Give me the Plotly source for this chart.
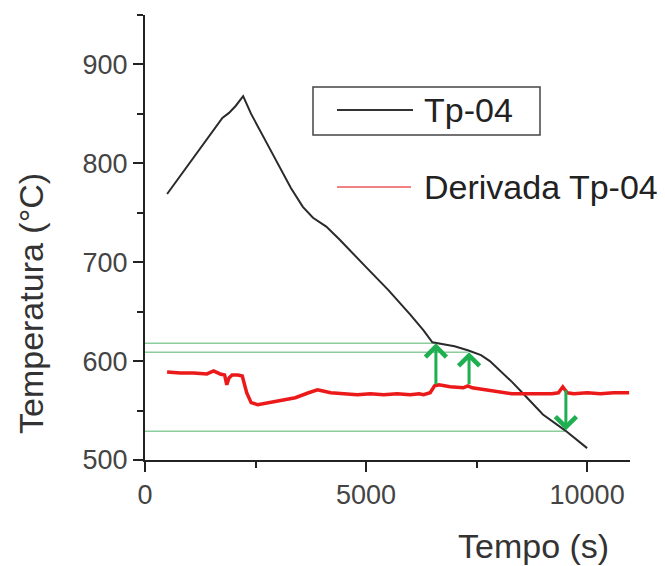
import plotly.graph_objects as go

# Tp-04 temperature curve (time s, temperature °C)
tp_time = [500, 1000, 1500, 1750, 1900, 2050, 2220, 2400, 2700, 3000, 3300, 3570,
           3800, 4100, 4400, 5000, 5500, 6000, 6300, 6500, 6750, 7000, 7300, 7600,
           7800, 8000, 8300, 8600, 9000, 9500, 10000]
tp_temp = [769, 800, 830, 846, 851, 858, 868, 850, 825, 800, 775, 756,
           745, 736, 723, 695, 672, 647, 631, 619, 617, 615, 611, 606,
           600, 592, 579, 565, 546, 530, 512]

# Derivada Tp-04 (plotted on the same scale)
der_time = [500, 800, 1100, 1400, 1550, 1700, 1800, 1850, 1900, 1970, 2100, 2200,
            2300, 2400, 2550, 2800, 3100, 3400, 3700, 3900, 4000, 4200, 4500, 4800,
            5100, 5400, 5700, 6000, 6200, 6300, 6450, 6550, 6650, 6900, 7200, 7300,
            7400, 7700, 8000, 8300, 8600, 8900, 9200, 9350, 9450, 9550, 9700, 10000,
            10300, 10600, 10950]
der_temp = [589, 588, 588, 587, 590, 587, 586, 576, 583, 586, 586, 585,
            568, 558, 556, 558, 560, 563, 568, 571, 570, 568, 567, 566,
            567, 566, 567, 566, 567, 566, 568, 575, 576, 574, 573, 575,
            573, 571, 569, 567, 567, 567, 567, 568, 574, 568, 567, 568,
            567, 568, 568]

# Reference levels (horizontal green lines): level, end time
level_vals = [618, 609, 529]
level_ends = [6550, 7300, 9500]

# Arrows: time, start (derivative), end (level)
arrow_time = [6580, 7330, 9520]
arrow_from = [575, 575, 572]
arrow_to = [618, 609, 530]

x_ticks = [0, 5000, 10000]
x_tick_text = ["0", "5000", "10000"]
y_ticks = [500, 600, 700, 800, 900]
y_tick_text = ["500", "600", "700", "800", "900"]

legend_names = ["Tp-04", "Derivada Tp-04"]

FONT = "Liberation Sans, Arial, sans-serif"

# page body has an 8px margin: compensate so the plot lands where the reference has it
OFF = 8
PL, PR, PT, PB = 145, 630, 15, 460          # plot area in window pixels
W, H = 665 - OFF, 566 - OFF


def px(xw):
    return (xw - PL) / (PR - PL)


def py(yw):
    return (PB - yw) / (PB - PT)


fig = go.Figure()

for lv, le in zip(level_vals, level_ends):
    fig.add_trace(go.Scatter(x=[0, le], y=[lv, lv], mode="lines",
                             line=dict(color="rgb(140,205,155)", width=1.5),
                             showlegend=False, hoverinfo="skip"))

fig.add_trace(go.Scatter(x=tp_time, y=tp_temp, mode="lines", name=legend_names[0],
                         line=dict(color="#2a2a2a", width=2), showlegend=False))
fig.add_trace(go.Scatter(x=der_time, y=der_temp, mode="lines", name=legend_names[1],
                         line=dict(color="rgb(235,25,25)", width=3.5), showlegend=False))

annotations = []
for t, a, b in zip(arrow_time, arrow_from, arrow_to):
    annotations.append(dict(x=t, y=b, ax=t, ay=a, xref="x", yref="y", axref="x", ayref="y",
                            showarrow=True, arrowhead=4, arrowsize=1.35, arrowwidth=3,
                            arrowcolor="rgb(30,175,80)", text=""))

annotations.append(dict(text="Temperatura (°C)", textangle=-90, xref="paper", yref="paper",
                        x=px(31), y=py(304), xanchor="center", yanchor="middle",
                        showarrow=False, font=dict(size=34, color="#333", family=FONT)))
annotations.append(dict(text="Tempo (s)", xref="paper", yref="paper",
                        x=px(533), y=py(546), xanchor="center", yanchor="middle",
                        showarrow=False, font=dict(size=34, color="#333", family=FONT)))

# legend (drawn by hand: only the first entry is boxed)
annotations.append(dict(text=legend_names[0], xref="paper", yref="paper",
                        x=px(422), y=py(110), xanchor="left", yanchor="middle",
                        showarrow=False, font=dict(size=34, color="#222", family=FONT)))
annotations.append(dict(text=legend_names[1], xref="paper", yref="paper",
                        x=px(422), y=py(187), xanchor="left", yanchor="middle",
                        showarrow=False, font=dict(size=34, color="#222", family=FONT)))

shapes = [
    dict(type="rect", xref="paper", yref="paper", x0=px(313), x1=px(540), y0=py(135), y1=py(87),
         line=dict(color="#444", width=1.5), fillcolor="rgba(0,0,0,0)"),
    dict(type="line", xref="paper", yref="paper", x0=px(337), x1=px(413), y0=py(110), y1=py(110),
         line=dict(color="#333", width=2)),
    dict(type="line", xref="paper", yref="paper", x0=px(337), x1=px(411), y0=py(187), y1=py(187),
         line=dict(color="rgb(240,130,130)", width=2)),
]

axis_common = dict(showline=True, linecolor="#222", linewidth=2, ticks="outside",
                   ticklen=10, tickwidth=2, tickcolor="#222", showgrid=False,
                   zeroline=False, automargin=False,
                   tickfont=dict(size=27, color="#444", family=FONT))

fig.update_layout(
    width=W, height=H,
    margin=dict(l=PL - OFF, r=W - (PR - OFF), t=PT - OFF, b=H - (PB - OFF)),
    paper_bgcolor="white", plot_bgcolor="white",
    xaxis=dict(range=[0, 10970], tickvals=x_ticks, ticktext=x_tick_text,
               minor=dict(ticks="outside", ticklen=6, tickwidth=2, tickcolor="#222", dtick=2500),
               **axis_common),
    yaxis=dict(range=[500, 950], tickvals=y_ticks, ticktext=y_tick_text,
               minor=dict(ticks="outside", ticklen=6, tickwidth=2, tickcolor="#222", dtick=50),
               **axis_common),
    annotations=annotations,
    shapes=shapes,
    showlegend=False,
)

fig.write_html("out.html")
